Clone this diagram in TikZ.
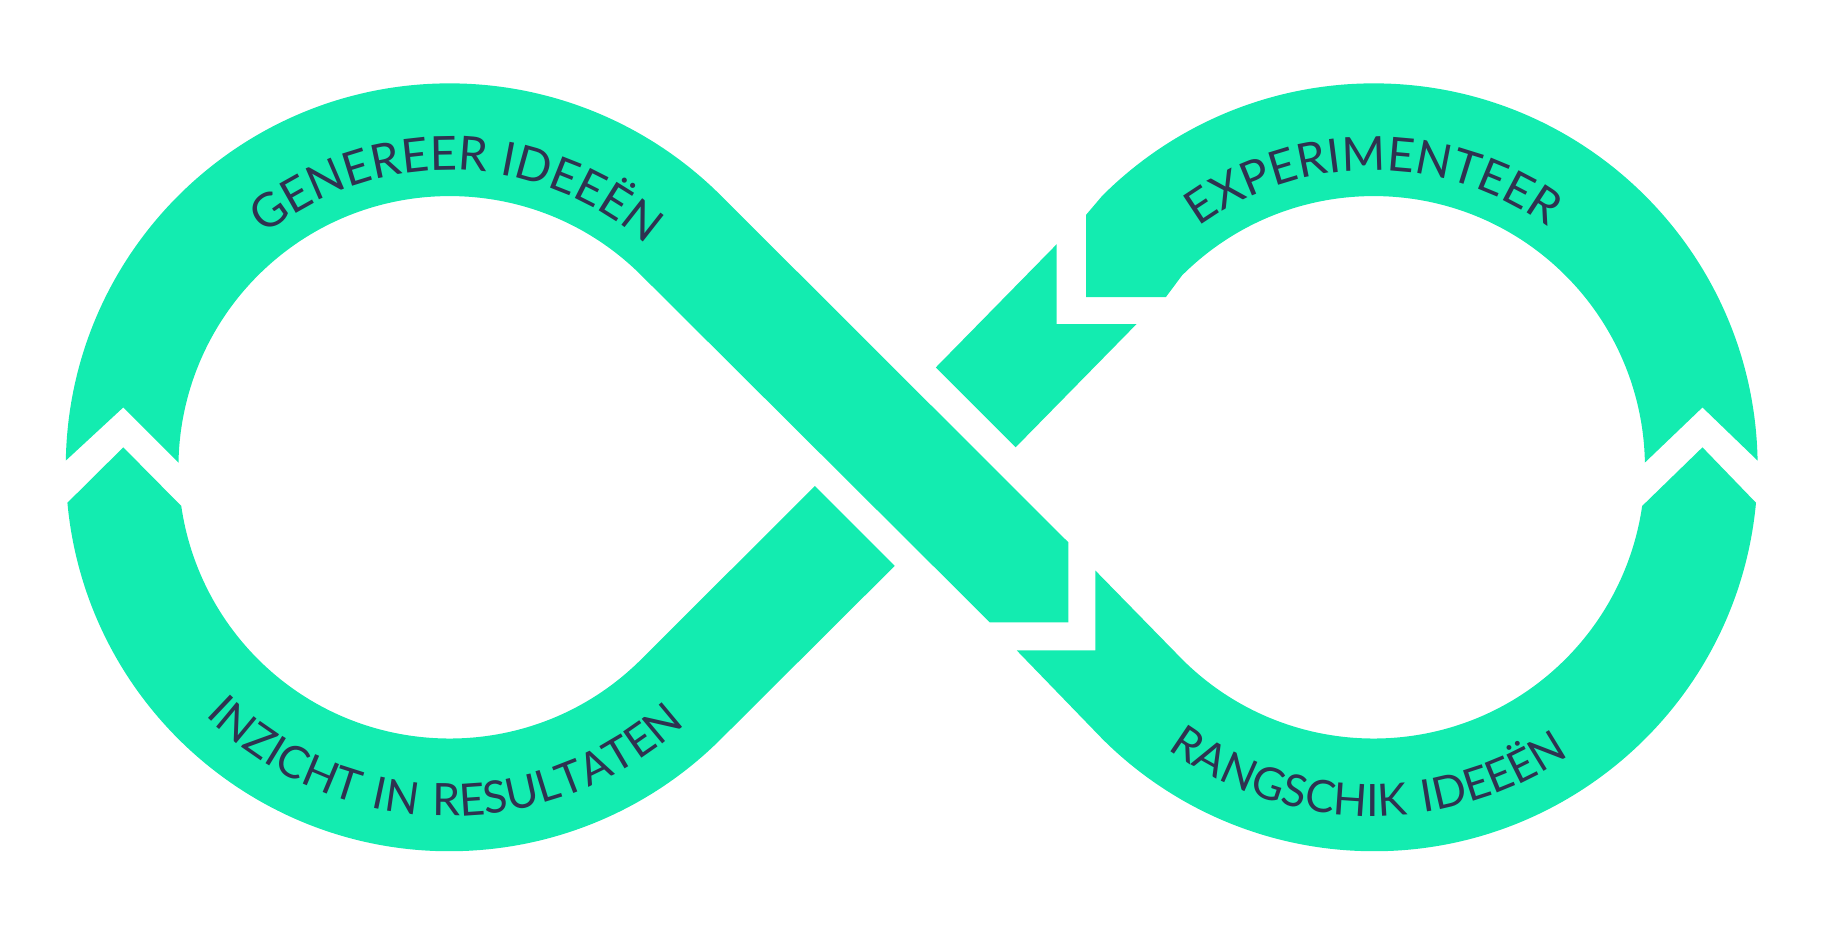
\documentclass[tikz,border=0pt]{standalone}
\usepackage{fontspec}
\setmainfont{Lato}
\newfontfamily\widefont[LetterSpace=9]{Lato}
\usetikzlibrary{calc,decorations.text}
\definecolor{mint}{HTML}{13ECB0}
\definecolor{ink}{HTML}{2E3250}

\begin{document}
\begin{tikzpicture}[x=1pt, y=-1pt, band/.style = {fill=mint},
  curved/.style = {decorate, decoration={text along path, text align=center,
    text color=ink, text={|\fontsize{40}{48}\selectfont|#1}}},
  wide/.style = {decorate, decoration={text along path, text align=center,
    text color=ink, text={|\widefont\fontsize{38}{46}\selectfont|#1}}}]
    \useasboundingbox (0,0) rectangle (1568,798);
    \coordinate (cl) at (383,398);
    \coordinate (cr) at (1170,398);

    % genereer ideeen
    \fill[band] ($(cl)+(181:327)$) arc[start angle=181, end angle=315, radius=327]
      -- (910,462) -- (910,530) -- (843,530) -- ($(cl)+(315:231)$)
      arc[start angle=315, end angle=181, radius=231] -- (105,347) -- cycle;
    % rangschik ideeen
    \fill[band] (933,486) -- ($(cr)+(135:231)$)
      arc[start angle=135, end angle=8.2, radius=231] -- (1450,381)
      -- ($(cr)+(5.3:327)$) arc[start angle=5.3, end angle=135, radius=327]
      -- (866,554) -- (933,554) -- cycle;
    % experimenteer
    \fill[band] ($(cr)+(359:327)$) arc[start angle=359, end angle=225, radius=327]
      -- (925,183) -- (925,253) -- (993,253) -- ($(cr)+(225:231)$)
      arc[start angle=225, end angle=359, radius=231] -- (1450,347) -- cycle;
    \fill[band] (900,208) -- (900,276) -- (968,276) -- (865,381) -- (797,313) -- cycle;
    % inzicht in resultaten
    \fill[band] (694,414) -- ($(cl)+(45:231)$)
      arc[start angle=45, end angle=171.8, radius=231] -- (105,381)
      -- ($(cl)+(174.7:327)$) arc[start angle=174.7, end angle=45, radius=327]
      -- (762,482) -- cycle;

    \path[curved={GENEREER IDEEËN}] ($(cl)+(200:253)$) arc[start angle=200, end angle=343, radius=253];
    \path[curved={EXPERIMENTEER}] ($(cr)+(200:253)$) arc[start angle=200, end angle=340, radius=253];
    \path[wide={INZICHT IN RESULTATEN}] ($(cl)+(175:297)$) arc[start angle=175, end angle=7, radius=297];
    \path[wide={RANGSCHIK IDEEËN}] ($(cr)+(170:297)$) arc[start angle=170, end angle=12, radius=297];
\end{tikzpicture}
\end{document}
